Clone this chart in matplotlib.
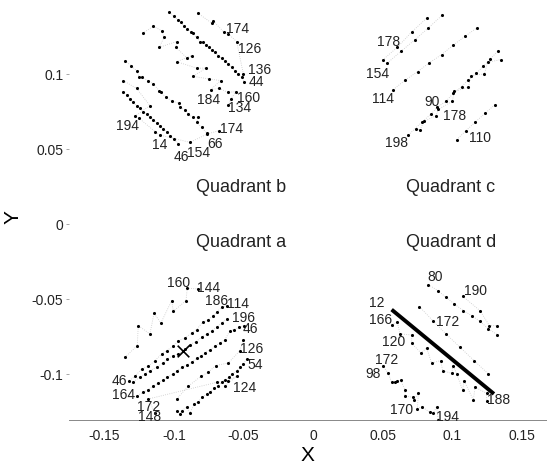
# Streudiagramm mit vier Quadranten
import matplotlib
matplotlib.use("Agg")
import matplotlib.pyplot as plt

plt.rcParams['font.family'] = ['Liberation Sans', 'DejaVu Sans']

# Quadrant b
b1_x = [-0.1032, -0.0999, -0.0967, -0.0951, -0.0927, -0.0903, -0.0879, -0.0864, -0.0836, -0.0812, -0.0788, -0.0769,
        -0.075, -0.0726, -0.0702, -0.068, -0.0656, -0.0632, -0.0608, -0.0584, -0.056, -0.0536, -0.0512, -0.0496]
b1_y = [0.1411, 0.1384, 0.136, 0.1349, 0.1318, 0.13, 0.1282, 0.1271, 0.1244, 0.1216, 0.1211, 0.1196,
        0.1178, 0.116, 0.1144, 0.1122, 0.1104, 0.1089, 0.1067, 0.1044, 0.1022, 0.1, 0.0978, 0.0949]
b2_x = [-0.0829, -0.0728, -0.0716, -0.0639, -0.0608, -0.0548, -0.05]
b2_y = [0.1407, 0.134, 0.1353, 0.1278, 0.1267, 0.1216, 0.1]
b3_x = [-0.1224, -0.1147, -0.1087, -0.107, -0.1104, -0.0979, -0.0984, -0.0903, -0.0872, -0.0979, -0.0831,
        -0.0769, -0.086, -0.0745, -0.0663, -0.0735, -0.0673, -0.0613, -0.0553, -0.0591, -0.0608]
b3_y = [0.1271, 0.1318, 0.1289, 0.1244, 0.1178, 0.1216, 0.1178, 0.1104, 0.1122, 0.1082, 0.1038,
        0.104, 0.0984, 0.0967, 0.0956, 0.0896, 0.0904, 0.0878, 0.0882, 0.0833, 0.0793]
b4_x = [-0.1351, -0.1307, -0.1267, -0.1248, -0.1231, -0.1183, -0.1147, -0.1104, -0.1092, -0.1056, -0.1015,
        -0.0963, -0.0955, -0.092, -0.0896, -0.0864, -0.0824, -0.0836, -0.08, -0.0764]
b4_y = [0.1089, 0.1056, 0.1022, 0.0982, 0.0978, 0.0956, 0.0933, 0.0889, 0.0878, 0.0844, 0.0822,
        0.0804, 0.0778, 0.076, 0.0733, 0.0711, 0.0711, 0.0678, 0.0644, 0.0607]
b5_x = [-0.1367, -0.1334, -0.1315, -0.1291, -0.1267, -0.1243, -0.1219, -0.1195, -0.1171, -0.1147, -0.1123,
        -0.1099, -0.1075, -0.1051, -0.1027, -0.0999, -0.0967]
b5_y = [0.0882, 0.086, 0.0833, 0.0811, 0.0789, 0.0771, 0.0749, 0.0733, 0.0711, 0.0696, 0.0673,
        0.0656, 0.0633, 0.0616, 0.0589, 0.0567, 0.0533]
b6_x = [-0.1363, -0.1267, -0.1171, -0.1279, -0.1248, -0.1135, -0.1099, -0.0884, -0.0759, -0.0675]
b6_y = [0.0956, 0.0904, 0.0789, 0.0718, 0.0704, 0.0616, 0.0593, 0.0544, 0.06, 0.0622]

# Quadrant c
c1_x = [0.050, 0.0606, 0.0709, 0.0817]
c1_y = [0.1093, 0.1178, 0.128, 0.1373]
c2_x = [0.0534, 0.0632, 0.0733, 0.0829, 0.0929]
c2_y = [0.1073, 0.1151, 0.1229, 0.1307, 0.1393]
c3_x = [0.0577, 0.0663, 0.0752, 0.0833, 0.0924, 0.1008, 0.1092, 0.1176]
c3_y = [0.0896, 0.096, 0.1016, 0.1073, 0.1129, 0.1193, 0.1251, 0.1307]
c4_x = [0.0685, 0.0781, 0.0848, 0.0893, 0.0955, 0.1008, 0.1068, 0.1116, 0.1171, 0.1224, 0.1272, 0.1327]
c4_y = [0.0593, 0.0678, 0.0733, 0.0778, 0.0818, 0.0871, 0.0916, 0.0962, 0.1004, 0.1051, 0.11, 0.1151]
c5_x = [0.0738, 0.0769, 0.0797, 0.0884, 0.09, 0.1001, 0.1015, 0.1116, 0.1135, 0.1231, 0.1255, 0.1348]
c5_y = [0.0633, 0.0627, 0.0684, 0.0722, 0.0764, 0.0818, 0.0884, 0.0911, 0.0989, 0.1, 0.1078, 0.1096]
c6_x = [0.1032, 0.1099, 0.1164, 0.1236, 0.1307]
c6_y = [0.0562, 0.0622, 0.0678, 0.0738, 0.0796]

# Quadrant a
a1_x = [-0.1351, -0.1262, -0.1255, -0.1171, -0.1142, -0.1092, -0.1015, -0.1003, -0.0912, -0.0903, -0.0824]
a1_y = [-0.0889, -0.0811, -0.0678, -0.0733, -0.0596, -0.066, -0.0511, -0.0582, -0.0511, -0.0429, -0.0433]
a2_x = [-0.1319, -0.1279, -0.1231, -0.1183, -0.1135, -0.1087, -0.1051, -0.1003, -0.0967, -0.092, -0.0872,
        -0.0836, -0.0793, -0.0752, -0.0716, -0.0687, -0.0656, -0.062]
a2_y = [-0.1044, -0.1016, -0.0967, -0.0949, -0.0911, -0.0867, -0.0844, -0.0816, -0.0778, -0.0762, -0.0727,
        -0.0704, -0.0656, -0.0638, -0.0611, -0.0584, -0.0556, -0.0544]
a3_x = [-0.1291, -0.1243, -0.1207, -0.1171, -0.1123, -0.108, -0.1046, -0.1008, -0.0967, -0.092, -0.0884,
        -0.0841, -0.08, -0.0764, -0.0728, -0.0692, -0.0656, -0.062]
a3_y = [-0.1051, -0.1022, -0.1, -0.0978, -0.0956, -0.0927, -0.09, -0.0878, -0.0867, -0.0833, -0.0804,
        -0.0784, -0.0756, -0.0733, -0.0711, -0.0689, -0.066, -0.0633]
a4_x = [-0.1262, -0.1219, -0.1183, -0.1147, -0.1111, -0.1075, -0.1046, -0.1008, -0.0975, -0.0943, -0.0908,
        -0.0872, -0.0836, -0.0807, -0.0776, -0.074, -0.0704, -0.0668, -0.0632, -0.0596, -0.0568, -0.0529, -0.0496]
a4_y = [-0.1144, -0.1122, -0.1104, -0.1082, -0.106, -0.1038, -0.1022, -0.1, -0.0978, -0.0956, -0.094,
        -0.0922, -0.0896, -0.0882, -0.086, -0.0838, -0.0816, -0.0793, -0.0771, -0.0711, -0.0704, -0.0689, -0.0678]
a5_x = [-0.0979, -0.0955, -0.0943, -0.0908, -0.0884, -0.0852, -0.0824, -0.0795, -0.0764, -0.074, -0.0709,
        -0.0685, -0.0656, -0.0632, -0.0603, -0.058, -0.0548, -0.0524, -0.05, -0.0477]
a5_y = [-0.1244, -0.1267, -0.1244, -0.1222, -0.126, -0.12, -0.1184, -0.1156, -0.1133, -0.1118, -0.1096,
        -0.1078, -0.1056, -0.1038, -0.1022, -0.1, -0.0978, -0.0956, -0.0933, -0.09]
a6_x = [-0.0979, -0.0896, -0.0805, -0.0752, -0.0699, -0.0608, -0.0524, -0.05]
a6_y = [-0.1167, -0.1082, -0.1016, -0.0989, -0.0944, -0.0927, -0.0844, -0.0773]
a7_x = [-0.0632, -0.0548, -0.0608, -0.0692, -0.1183, -0.1135]
a7_y = [-0.1078, -0.1016, -0.1044, -0.1056, -0.1167, -0.1262]
mark_x = [-0.0936]
mark_y = [-0.0844]

# Quadrant d
d1_x = [0.0829, 0.0896, 0.0955, 0.1015, 0.108, 0.114, 0.12, 0.126, 0.1324]
d1_y = [-0.0404, -0.0444, -0.0489, -0.0533, -0.0578, -0.0611, -0.0649, -0.07, -0.0738]
d2_x = [0.1075, 0.12, 0.1267, 0.1324]
d2_y = [-0.0482, -0.0578, -0.0678, -0.0678]
d3_x = [0.0764, 0.086, 0.0955, 0.1056, 0.1157, 0.126]
d3_y = [-0.0551, -0.0644, -0.0733, -0.0822, -0.0911, -0.1]
d4_x = [0.0565, 0.0606, 0.0625, 0.0709, 0.0709, 0.0776, 0.0817, 0.0852, 0.0917, 0.0932, 0.0996, 0.1008,
        0.1032, 0.1075, 0.1085, 0.1152, 0.1164, 0.1248, 0.1248]
d4_y = [-0.0671, -0.0656, -0.0733, -0.074, -0.0796, -0.086, -0.0827, -0.0927, -0.0911, -0.0978, -0.0996, -0.0944,
        -0.1, -0.1107, -0.1044, -0.1173, -0.1089, -0.1129, -0.1178]
d5_x = [0.05, 0.0541, 0.0565, 0.0589, 0.0606, 0.063, 0.0661, 0.0661, 0.0716, 0.0726, 0.0757, 0.075,
        0.0781, 0.0841, 0.0864, 0.0888, 0.09]
d5_y = [-0.0944, -0.0996, -0.1056, -0.1056, -0.1049, -0.104, -0.1107, -0.1144, -0.1156, -0.1173, -0.1129, -0.1233,
        -0.1218, -0.1256, -0.1262, -0.1218, -0.1307]
fit_x = [0.0565, 0.130]
fit_y = [-0.0571, -0.1133]

# Beschriftungen der Punkte
lab_text = ['174', '126', '136', '44', '160', '184', '134', '194', '174', '14', '66', '154', '46',
            '178', '154', '114', '90', '178', '198', '110',
            '160', '144', '186', '114', '196', '46', '126', '54', '124', '46', '164', '172', '148',
            '80', '190', '12', '166', '172', '120', '172', '98', '170', '194', '188']
lab_x = [-0.0544, -0.0458, -0.0386, -0.0405, -0.0465, -0.0752, -0.0524, -0.1334, -0.0584, -0.1099, -0.0704, -0.0824, -0.0943,
         0.054, 0.0465, 0.0505, 0.0853, 0.1015, 0.0601, 0.12,
         -0.0963, -0.0752, -0.0692, -0.0536, -0.05, -0.0453, -0.0441, -0.0417, -0.0489, -0.1391, -0.1363, -0.1183, -0.1171,
         0.0876, 0.1164, 0.0457, 0.0486, 0.0965, 0.0582, 0.0529, 0.0433, 0.0637, 0.0965, 0.1331]
lab_y = [0.1304, 0.1171, 0.1033, 0.0956, 0.0849, 0.0833, 0.0778, 0.066, 0.064, 0.0533, 0.054, 0.0482, 0.0453,
         0.122, 0.1007, 0.084, 0.0822, 0.0727, 0.0545, 0.0578,
         -0.0384, -0.0422, -0.0507, -0.0527, -0.0622, -0.0696, -0.0829, -0.0933, -0.1089, -0.1038, -0.1133, -0.1211, -0.1278,
         -0.0344, -0.044, -0.0522, -0.0633, -0.0649, -0.0778, -0.09, -0.0996, -0.1233, -0.1278, -0.1167]

quad_text = ['Quadrant b', 'Quadrant c', 'Quadrant a', 'Quadrant d']
quad_x = [-0.052, 0.099, -0.052, 0.099]
quad_y = [0.0247, 0.0247, -0.012, -0.012]

fig = plt.figure(figsize=(5.47, 4.64), dpi=100)
ax = fig.add_axes([0.126, 0.0927, 0.874, 0.9073])

serien = [(b1_x, b1_y), (b2_x, b2_y), (b3_x, b3_y), (b4_x, b4_y), (b5_x, b5_y), (b6_x, b6_y),
          (c1_x, c1_y), (c2_x, c2_y), (c3_x, c3_y), (c4_x, c4_y), (c5_x, c5_y), (c6_x, c6_y),
          (a1_x, a1_y), (a2_x, a2_y), (a3_x, a3_y), (a4_x, a4_y), (a5_x, a5_y), (a6_x, a6_y), (a7_x, a7_y),
          (d1_x, d1_y), (d2_x, d2_y), (d3_x, d3_y), (d4_x, d4_y), (d5_x, d5_y)]
for sx, sy in serien:
    ax.plot(sx, sy, linestyle=':', color='#c8c8c8', linewidth=0.6, zorder=1)
    ax.scatter(sx, sy, s=5, color='black', linewidths=0, zorder=2)

ax.plot(fit_x, fit_y, color='black', linewidth=2.8, solid_capstyle='butt', zorder=3)
ax.scatter(mark_x, mark_y, marker='x', s=70, color='black', linewidths=1.2, zorder=3)

for t, x, y in zip(lab_text, lab_x, lab_y):
    ax.text(x, y, t, fontsize=10, ha='center', va='center', color='#222222')
for t, x, y in zip(quad_text, quad_x, quad_y):
    ax.text(x, y, t, fontsize=13, ha='center', va='center', color='#222222')

ax.set_xlim(-0.1753, 0.1681)
ax.set_ylim(-0.1307, 0.15)
ax.set_xticks([-0.15, -0.1, -0.05, 0, 0.05, 0.1, 0.15])
ax.set_xticklabels(['-0.15', '-0.1', '-0.05', '0', '0.05', '0.1', '0.15'])
ax.set_yticks([-0.1, -0.05, 0, 0.05, 0.1])
ax.set_yticklabels(['-0.1', '-0.05', '0', '0.05', '0.1'])
ax.tick_params(axis='x', length=0, pad=6, labelsize=10, labelcolor='#222222')
ax.tick_params(axis='y', length=2, width=0.6, color='#999999', pad=2, labelsize=10, labelcolor='#222222')

for s in ['left', 'right', 'top']:
    ax.spines[s].set_visible(False)
ax.spines['bottom'].set_linestyle((0, (2, 1)))
ax.spines['bottom'].set_color('#888888')
ax.spines['bottom'].set_linewidth(0.7)

ax.set_xlabel('X', fontsize=15, labelpad=2)
ax.set_ylabel('Y', fontsize=15)
ax.yaxis.set_label_coords(-0.098, 0.485)

fig.savefig('out.png', dpi=100)
